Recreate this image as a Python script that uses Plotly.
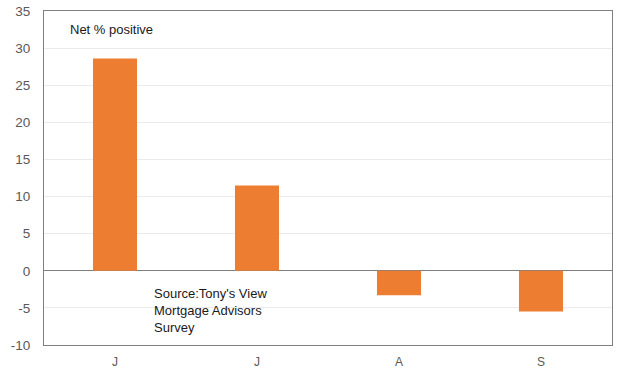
import plotly.graph_objects as go

categories = ["J1", "J2", "A", "S"]
tick_labels = ["J", "J", "A", "S"]
values = [28.6, 11.5, -3.3, -5.5]
y_ticks = [-10, -5, 0, 5, 10, 15, 20, 25, 30, 35]
y_tick_labels = ["-10", "-5", "0", "5", "10", "15", "20", "25", "30", "35"]

fig = go.Figure()
fig.add_trace(go.Bar(
    x=categories, y=values,
    marker=dict(color="#ED7D31", line=dict(width=0)),
    width=0.31,
))

fig.update_layout(
    width=618, height=372,
    margin=dict(l=44, r=6, t=11, b=27),
    plot_bgcolor="white", paper_bgcolor="white",
    showlegend=False,
    font=dict(family="Liberation Sans, Arial, sans-serif", size=13, color="#595959"),
    xaxis=dict(
        tickmode="array", tickvals=categories, ticktext=tick_labels,
        showgrid=False, showline=True, linecolor="#7f7f7f", linewidth=1, mirror=True,
        ticks="", zeroline=False, tickfont=dict(size=12), ticklabelstandoff=6,
        automargin=False,
    ),
    yaxis=dict(
        range=[-10, 35], tickmode="array", tickvals=y_ticks, ticktext=y_tick_labels,
        showgrid=True, gridcolor="#ebebeb",
        showline=True, linecolor="#7f7f7f", linewidth=1, mirror=True,
        zeroline=True, zerolinecolor="#7f7f7f", zerolinewidth=1, ticks="",
        ticklabelstandoff=10, tickfont=dict(size=13.5), automargin=False,
    ),
    annotations=[
        dict(text="Net % positive", xref="paper", yref="paper", x=0.042, y=0.945,
             xanchor="left", yanchor="middle", showarrow=False,
             font=dict(size=13, color="#1a1a1a")),
        dict(text="Source:Tony's View<br>Mortgage Advisors<br>Survey", xref="paper", yref="paper",
             x=0.19, y=0.183, xanchor="left", yanchor="top", showarrow=False, align="left",
             font=dict(size=13, color="#1a1a1a")),
    ],
)

fig.write_html("out.html")
